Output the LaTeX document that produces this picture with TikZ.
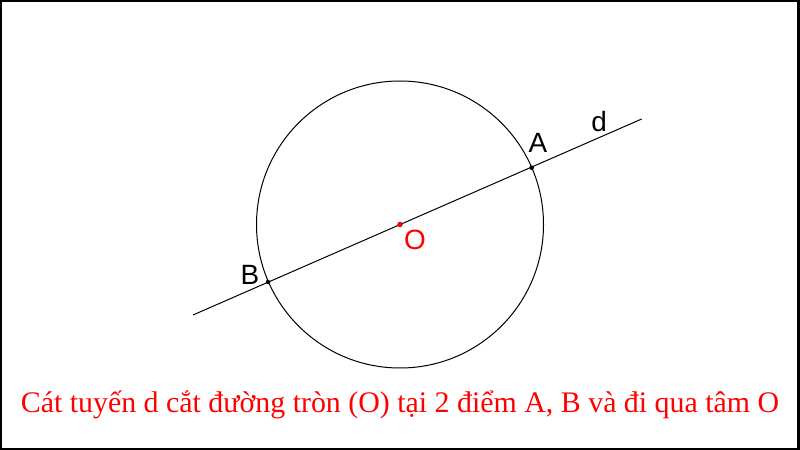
\documentclass[tikz,border=0pt]{standalone}
\usepackage{fontspec}
\setmainfont{Liberation Serif}
\newfontfamily\labfont{Liberation Sans}
\begin{document}
\begin{tikzpicture}[x=1bp,y=-1bp,
  lab/.style={font=\labfont\fontsize{28}{30}\selectfont, inner sep=0pt},
  pt/.style={circle, fill=black, inner sep=0pt, minimum size=4.5bp},
  thinline/.style={line width=1bp, black}]
\useasboundingbox (0,0) rectangle (800,450);
\draw[line width=2.5bp] (1,0.8) rectangle (798.5,449);
\coordinate (O) at (400,224.5);
\coordinate (P) at (193,315);
\coordinate (Q) at (641.7,119);
\draw[thinline] (O) circle[radius=143.5bp];
\draw[thinline] (P) -- (Q);
\node[pt] (A) at (531.7,167.7) {};
\node[pt] (B) at (268,282) {};
\node[circle, fill=red, inner sep=0pt, minimum size=5.5bp] (Odot) at (O) {};
\node[lab] (Alab) at (538,143) {A};
\node[lab] (Blab) at (250,275) {B};
\node[lab] (dlab) at (599,122) {d};
\node[lab, text=red] (Olab) at (415,240) {O};
\node[anchor=base, text=red, inner sep=0pt, font=\fontsize{30}{32}\selectfont] (cap) at (400,412) {Cát tuyến d cắt đường tròn (O) tại 2 điểm A, B và đi qua tâm O};
\end{tikzpicture}
\end{document}
